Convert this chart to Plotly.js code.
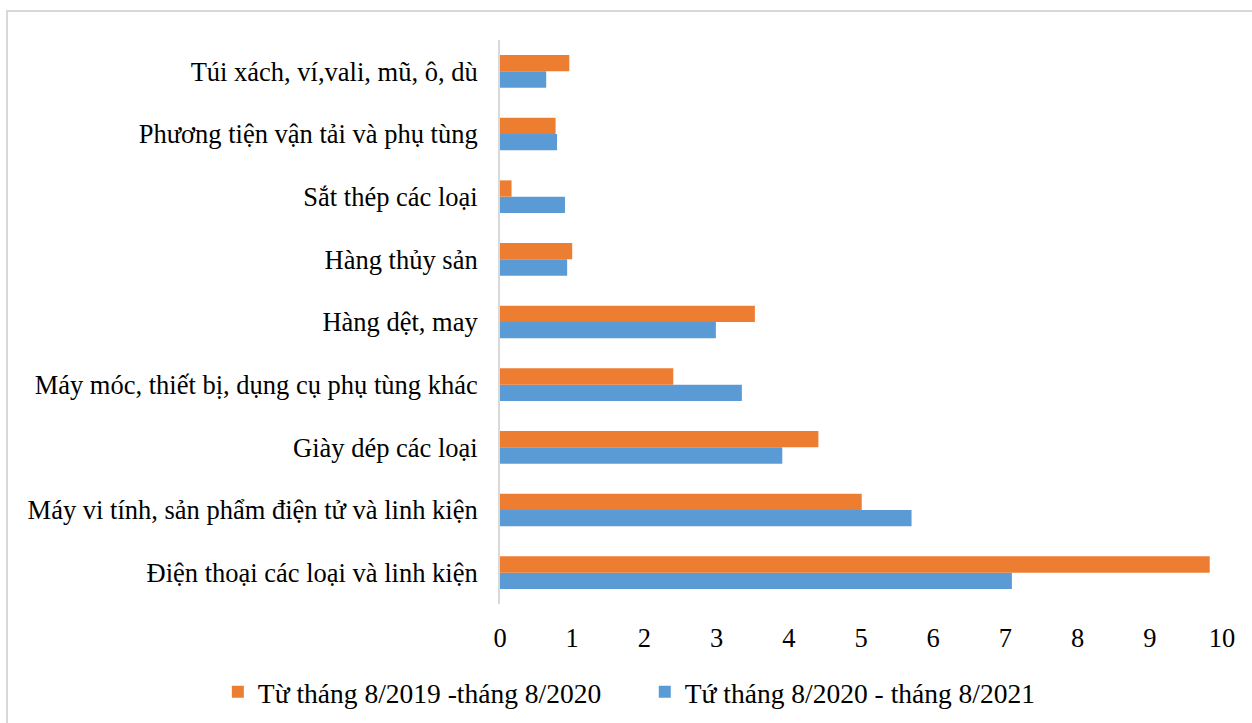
<!DOCTYPE html>
<html>
<head>
<meta charset="utf-8">
<script src="https://cdn.plot.ly/plotly-3.0.1.min.js"></script>
<style>
  html, body { margin: 0; padding: 0; background: #fff; overflow: hidden; }
  #wrap { position: relative; width: 1252px; height: 723px; }
  #chart { position: absolute; left: 0; top: 0; width: 1252px; height: 723px; }
  #frame { position: absolute; left: 6px; top: 10px; width: 1300px; height: 800px;
           border-left: 2px solid #d9d9d9; border-top: 2px solid #d9d9d9; pointer-events: none; }
</style>
</head>
<body>
<div id="wrap">
  <div id="chart"></div>
  <div id="frame"></div>
</div>
<script>
// Categories, listed bottom to top
const categories = [
  "Điện thoại các loại và linh kiện",
  "Máy vi tính, sản phẩm điện tử và linh kiện",
  "Giày dép các loại",
  "Máy móc, thiết bị, dụng cụ phụ tùng khác",
  "Hàng dệt, may",
  "Hàng thủy sản",
  "Sắt thép các loại",
  "Phương tiện vận tải và phụ tùng",
  "Túi xách, ví,vali, mũ, ô, dù"
];
const series2019Name = "Từ tháng 8/2019 -tháng 8/2020";
const series2019 = [9.83, 5.01, 4.41, 2.40, 3.53, 1.00, 0.16, 0.77, 0.96];
const series2020Name = "Tứ tháng 8/2020 - tháng 8/2021";
const series2020 = [7.09, 5.70, 3.91, 3.35, 2.99, 0.93, 0.90, 0.79, 0.64];
const xTicks = [0, 1, 2, 3, 4, 5, 6, 7, 8, 9, 10];

const FONT = "Liberation Serif, Times New Roman, serif";
const FS = 26.5;

const traces = [
  {
    type: "bar", orientation: "h",
    y: categories, x: series2020, name: series2020Name,
    marker: { color: "#5B9BD5" }, legend: "legend2", hoverinfo: "x+y"
  },
  {
    type: "bar", orientation: "h",
    y: categories, x: series2019, name: series2019Name,
    marker: { color: "#ED7D31" }, legend: "legend", hoverinfo: "x+y"
  }
];

const legendBase = {
  orientation: "h", xref: "container", yref: "container",
  y: 0.043, xanchor: "left", yanchor: "middle",
  font: { family: FONT, size: 27.5, color: "#000000" },
  bgcolor: "rgba(0,0,0,0)"
};

const layout = {
  width: 1252, height: 723,
  margin: { l: 500, r: 30, t: 40, b: 119, pad: 0 },
  paper_bgcolor: "#ffffff", plot_bgcolor: "#ffffff",
  font: { family: FONT, size: FS, color: "#000000" },
  barmode: "group", bargap: 0.48, bargroupgap: 0,
  showlegend: true,
  legend: Object.assign({}, legendBase, { x: 0.174 }),
  legend2: Object.assign({}, legendBase, { x: 0.515 }),
  xaxis: {
    range: [0, 10], tickvals: xTicks, ticktext: xTicks.map(String),
    showgrid: false, zeroline: false, showline: false,
    ticks: "outside", ticklen: 10, tickcolor: "rgba(0,0,0,0)",
    tickfont: { family: FONT, size: FS, color: "#000000" },
    fixedrange: true
  },
  yaxis: {
    type: "category", categoryorder: "array", categoryarray: categories,
    range: [-0.5, categories.length - 0.5],
    showgrid: false, zeroline: false,
    showline: true, linecolor: "#d9d9d9", linewidth: 2,
    ticks: "outside", ticklen: 15, tickcolor: "rgba(0,0,0,0)",
    tickfont: { family: FONT, size: FS, color: "#000000" },
    fixedrange: true
  }
};

Plotly.newPlot("chart", traces, layout, { displayModeBar: false, staticPlot: true });
</script>
</body>
</html>
